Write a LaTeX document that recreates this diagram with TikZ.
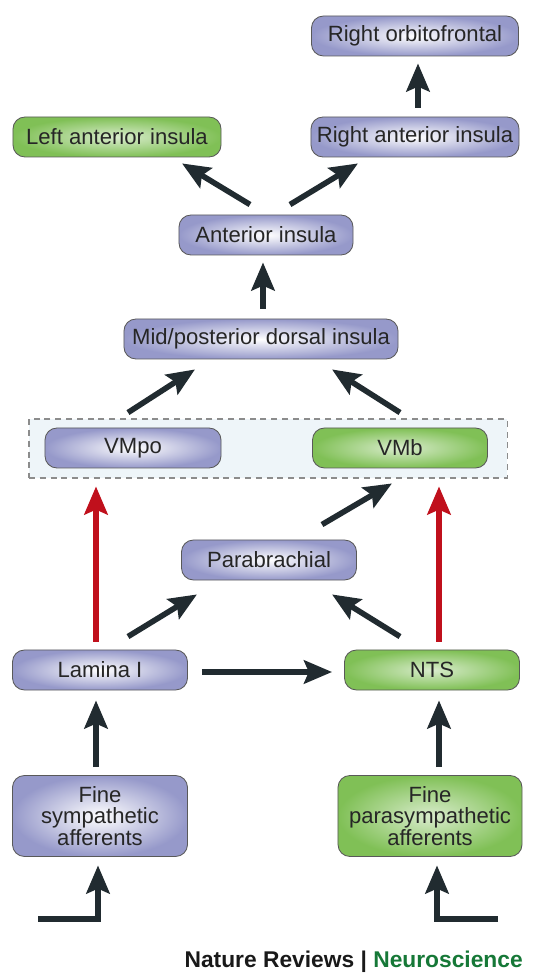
\documentclass[tikz,border=0pt]{standalone}
\usepackage{fontspec}
\setmainfont{Liberation Sans}
\usepackage{xcolor}
\usepackage{tikz}
\usetikzlibrary{arrows.meta,calc,positioning}

\definecolor{lav}{RGB}{150,153,202}
\definecolor{leaf}{RGB}{128,192,86}
\definecolor{ink}{RGB}{33,43,48}
\definecolor{blood}{RGB}{192,16,28}
\definecolor{mist}{RGB}{238,245,249}
\definecolor{natgreen}{RGB}{22,120,55}

\tikzset{
  region/.style={rounded corners=0.3cm, draw=black!65, line width=0.6pt,
    minimum height=1cm, inner sep=0pt, text=black!85, align=center,
    font=\fontsize{15.7}{15.5}\selectfont},
  sym/.style={region, inner color=white, outer color=lav},
  para/.style={region, inner color=leaf!30!white, outer color=leaf},
  link/.style={-{Stealth[length=0.7cm,width=0.58cm,inset=0.12cm]},
    line width=0.14cm, draw=ink},
  fast/.style={link, draw=blood},
}

\begin{document}
\begin{tikzpicture}[x=0.025cm,y=0.025cm]
      \useasboundingbox (0,0) rectangle (543,974);

      % thalamic box behind VMpo and VMb
      \node[draw=black!45, fill=mist, dash pattern=on 0.15cm off 0.12cm,
        line width=0.8pt, minimum width=11.95cm, minimum height=1.475cm] (thal) at (268,525.5) {};

      \node[sym, minimum width=5.175cm] (ro) at (415,938) {Right orbitofrontal};
      \node[para, minimum width=5.2cm] (lai) at (117,837) {Left anterior insula};
      \node[sym, minimum width=5.2cm] (rai) at (415,837) {Right anterior insula};
      \node[sym, minimum width=4.35cm] (ai) at (266,739) {Anterior insula};
      \node[sym, minimum width=6.85cm] (mid) at (261,635) {Mid/posterior dorsal insula};
      \node[sym, minimum width=4.4cm] (vmpo) at (133,526) {VMpo};
      \node[para, minimum width=4.375cm] (vmb) at (400,526) {VMb};
      \node[sym, minimum width=4.375cm] (parab) at (269,414) {Parabrachial};
      \node[sym, minimum width=4.375cm] (lam) at (100,304) {Lamina I};
      \node[para, minimum width=4.375cm] (nts) at (432,304) {NTS};
      \node[sym, minimum width=4.375cm, minimum height=2.025cm] (fs) at (100,158) {Fine\\sympathetic\\afferents};
      \node[para, minimum width=4.6cm, minimum height=2.025cm] (fp) at (430,158) {Fine\\parasympathetic\\afferents};

      \coordinate (inl) at (38,55);
      \coordinate (inr) at (498,55);

      \node[anchor=east, inner sep=0pt, text=black!90,
        font=\fontsize{16.2}{18}\selectfont\bfseries] (credit) at (523,12)
        {Nature Reviews | \textcolor{natgreen}{Neuroscience}};

      % insula chain
      \draw[link] ($(rai.north)+(3,9)$) -- ($(ro.south)+(3,-7)$);
      \draw[link] ($(ai.north)+(-16,10)$) -- ($(lai.south)+(65,-6)$);
      \draw[link] ($(ai.north)+(24,10)$) -- ($(rai.south)+(-57,-6)$);
      \draw[link] ($(mid.north)+(2,10)$) -- ($(ai.south)+(-3,-7)$);
      \draw[link] ($(vmpo.north)+(-5,15)$) -- ($(mid.south)+(-66,-10)$);
      \draw[link] ($(vmb.north)+(0,15)$) -- ($(mid.south)+(71,-10)$);

      % brainstem
      \draw[link] ($(parab.north)+(53,15)$) -- ($(vmb.south)+(-8,-15)$);
      \draw[link] ($(lam.north)+(28,13)$) -- ($(parab.south)+(-72,-14)$);
      \draw[link] ($(nts.north)+(-32,13)$) -- ($(parab.south)+(63,-14)$);
      \draw[link] ($(lam.east)+(14,-2)$) -- ($(nts.west)+(-12,-2)$);
      \draw[fast] ($(lam.north)+(-4,8)$) -- ($(vmpo.south)+(-37,-18)$);
      \draw[fast] ($(nts.north)+(7,8)$) -- ($(vmb.south)+(39,-18)$);

      % afferents
      \draw[link] ($(fs.north)+(-4,8)$) -- ($(lam.south)+(-4,-10)$);
      \draw[link] ($(fp.north)+(9,8)$) -- ($(nts.south)+(7,-10)$);
      \draw[link] (inl) -| ($(fs.south)+(-2,-8.5)$);
      \draw[link] (inr) -| ($(fp.south)+(7,-8.5)$);
\end{tikzpicture}
\end{document}
